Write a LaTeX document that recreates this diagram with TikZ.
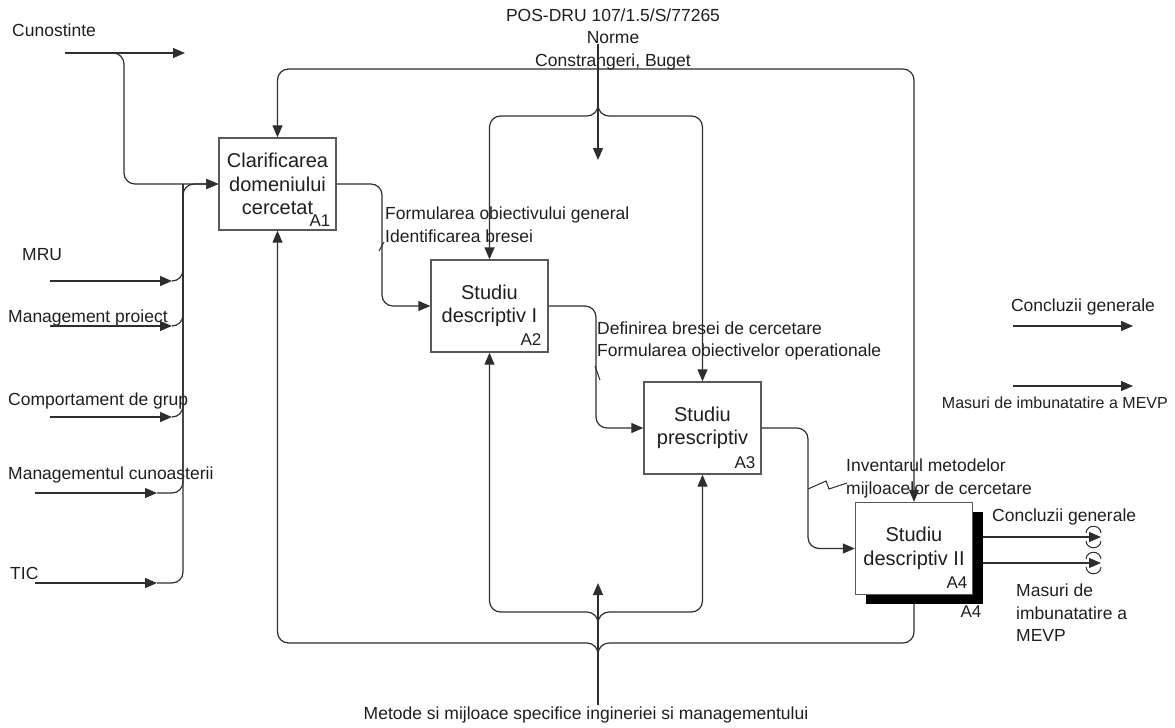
\documentclass[tikz,border=0pt]{standalone}
\usepackage{fontspec}
\setmainfont{Liberation Sans}
\usetikzlibrary{arrows.meta,shadows,calc}
\begin{document}
\begin{tikzpicture}[x=1pt,y=-1pt,
  line/.style={draw=black!82, line width=1.2pt},
  arr/.style={line, -{Triangle[length=12pt,width=10pt]}},
  rc/.style={rounded corners=11pt},
  box/.style={draw=black!65, line width=1.4pt, fill=white, minimum width=117pt,
    minimum height=92pt, align=center, inner sep=0pt,
    font=\fontsize{20}{23.5}\selectfont, text=black!88},
  lbl/.style={font=\fontsize{17.5}{22.5}\selectfont, inner sep=0pt, text=black!88},
  tag/.style={font=\fontsize{17}{20}\selectfont, inner sep=0pt, text=black!88},
  leader/.style={draw=black!82, line width=1pt}
]
\useasboundingbox (0,0) rectangle (1175,728);

% activity boxes
\node[box] (a1) at (277.5,184) {Clarificarea\\domeniului\\cercetat};
\node[box] (a2) at (489.5,306) {Studiu\\descriptiv I};
\node[box] (a3) at (702.5,428) {Studiu\\prescriptiv};
\node[box, drop shadow={shadow xshift=10pt, shadow yshift=-9pt, fill=black, opacity=1}]
  (a4) at (914,548.5) {Studiu\\descriptiv II};

\node[tag] (t1) at (320,221) {A1};
\node[tag] (t2) at (531,340) {A2};
\node[tag] (t3) at (745,463) {A3};
\node[tag] (t4) at (957,583) {A4};
\node[tag] (t4b) at (971,612) {A4};

% labels
\node[lbl, anchor=west] (lcun) at (12,30) {Cunostinte};
\node[lbl, anchor=west] (lmru) at (22,255) {MRU};
\node[lbl, anchor=west] (lmp) at (8,318) {Management proiect};
\node[lbl, anchor=west] (lcg) at (8,401) {Comportament de grup};
\node[lbl, anchor=west] (lmc) at (8,475) {Managementul cunoasterii};
\node[lbl, anchor=west] (ltic) at (10,573) {TIC};
\node[lbl, align=center] (lctl) at (613,39) {POS-DRU 107/1.5/S/77265\\Norme\\Constrangeri, Buget};
\node[lbl] (lmec) at (586,715) {Metode si mijloace specifice ingineriei si managementului};
\node[lbl, align=left, anchor=west] (lf1) at (385,224.5) {Formularea obiectivului general\\Identificarea bresei};
\node[lbl, align=left, anchor=west] (lf2) at (597,341) {Definirea bresei de cercetare\\Formularea obiectivelor operationale};
\node[lbl, align=left, anchor=west] (lf3) at (846,478.5) {Inventarul metodelor\\mijloacelor de cercetare};
\node[lbl, anchor=west] (lo1) at (992,517) {Concluzii generale};
\node[lbl, align=left, anchor=west] (lo2) at (1016,613) {Masuri de\\imbunatatire a\\MEVP};
\node[lbl] (lr1) at (1083,307) {Concluzii generale};
\node[lbl, font=\fontsize{16}{20}\selectfont, anchor=east] (lr2) at (1168,403) {Masuri de imbunatatire a MEVP};

% coordinates for free ends and junctions
\coordinate (cun0) at (65,53);
\coordinate (cun1) at (185,53);
\coordinate (cunb) at (124,120);
\coordinate (bus) at (183,184);
\coordinate (mru0) at (50,281);  \coordinate (mru1) at (172,281);
\coordinate (mp0) at (50,326);   \coordinate (mp1) at (172,326);
\coordinate (cg0) at (50,417);   \coordinate (cg1) at (172,417);
\coordinate (mc0) at (35,493);   \coordinate (mc1) at (157,493);
\coordinate (tic0) at (35,583);  \coordinate (tic1) at (157,583);
\coordinate (cin) at (598,44);
\coordinate (cend) at (598,160);
\coordinate (ob) at (598,69);
\coordinate (ibt) at (598,103);
\coordinate (ib) at (598,116);
\coordinate (mb0) at (598,705);
\coordinate (mb1) at (598,583);
\coordinate (obl) at (598,656);
\coordinate (obb) at (598,643);
\coordinate (ibl) at (598,625);
\coordinate (ibb) at (598,612);
\coordinate (a4sh) at (914,603);
\coordinate (f1) at (382,245);
\coordinate (f2) at (596,367);
\coordinate (f3) at (808,488);
\coordinate (o1s) at (983,537);  \coordinate (o1e) at (1101,537);
\coordinate (o2s) at (983,563);  \coordinate (o2e) at (1101,563);
\coordinate (r1s) at (1013,326); \coordinate (r1e) at (1133,326);
\coordinate (r2s) at (1013,386); \coordinate (r2e) at (1133,386);

% inputs of A1
\draw[arr] (cun0) -- (cun1);
\draw[arr,rc] (cun0) -| (cunb) |- (a1.west);
\draw[arr] (mru0) -- (mru1);
\draw[arr] (mp0) -- (mp1);
\draw[arr] (cg0) -- (cg1);
\draw[arr] (mc0) -- (mc1);
\draw[arr] (tic0) -- (tic1);
\draw[line,rc] (mru1) -| (bus);
\draw[line,rc] (mp1) -| (bus);
\draw[line,rc] (cg1) -| (bus);
\draw[line,rc] (mc1) -| (bus);
\draw[arr,rc] (tic1) -| (bus) -- (a1.west);

% controls
\draw[arr] (cin) -- (cend);
\draw[arr,rc] (ob) -| (a1.north);
\draw[arr,rc] (ob) -| (a4.north);
\draw[arr,rc] (ibt) -- (ib) -| (a2.north);
\draw[arr,rc] (ibt) -- (ib) -| (a3.north);

% mechanisms
\draw[arr] (mb0) -- (mb1);
\draw[arr,rc] (obl) -- (obb) -| (a1.south);
\draw[line,rc] (obl) -- (obb) -| (a4sh);
\draw[arr,rc] (ibl) -- (ibb) -| (a2.south);
\draw[arr,rc] (ibl) -- (ibb) -| (a3.south);

% flow between activities
\draw[arr,rc] (a1.east) -| (f1) |- (a2.west);
\draw[arr,rc] (a2.east) -| (f2) |- (a3.west);
\draw[arr,rc] (a3.east) -| (f3) |- (a4.west);

% label leaders
\draw[leader] (379,251) -- (384,242);
\draw[leader] (595,366) -- (600,380);
\draw[leader] (808,489) -- (826,481) -- (829,489) -- (847,483);

% outputs of A4 (tunnelled)
\draw[arr] (o1s) -- (o1e);
\draw[arr] (o2s) -- (o2e);
\foreach \c in {o1e,o2e} {
  \draw[leader] ($(\c)+(-15,-4)$) .. controls ($(\c)+(-14,-13)$) and ($(\c)+(-1,-13)$) .. ($(\c)+(0,-4)$);
  \draw[leader] ($(\c)+(-15,4)$) .. controls ($(\c)+(-14,13)$) and ($(\c)+(-1,13)$) .. ($(\c)+(0,4)$);
}

% outputs shown apart
\draw[arr] (r1s) -- (r1e);
\draw[arr] (r2s) -- (r2e);
\end{tikzpicture}
\end{document}
